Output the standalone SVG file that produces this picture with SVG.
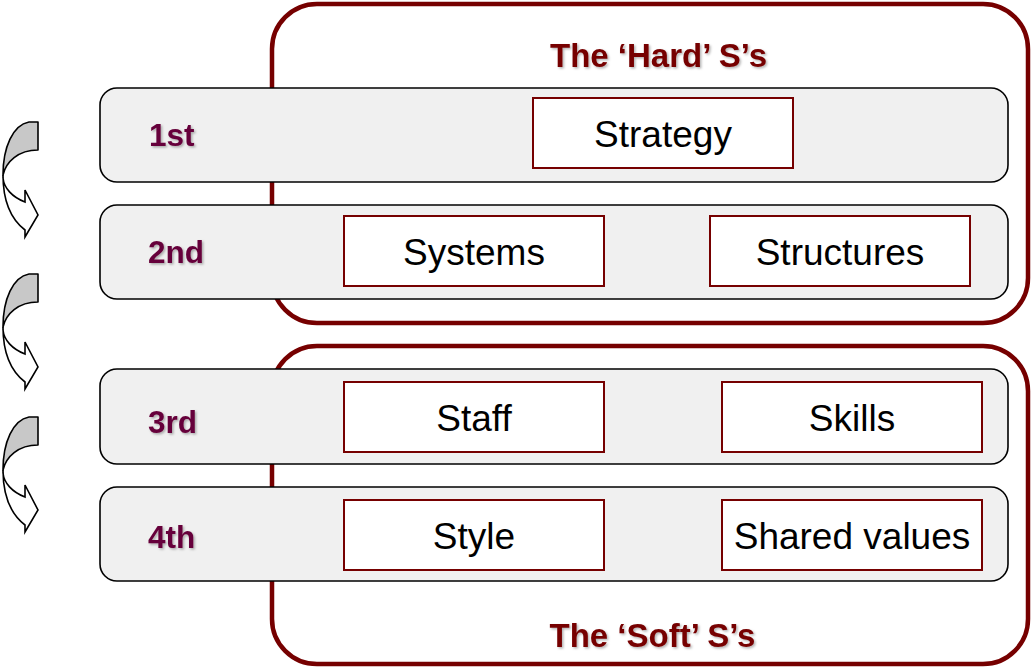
<svg xmlns="http://www.w3.org/2000/svg" width="1033" height="669" viewBox="0 0 1033 669">
<style>
.container{fill:none;stroke:#760000;stroke-width:4.5}
.row{fill:#f0f0f0;stroke:#000;stroke-width:1.6}
.box{fill:#fff;stroke:#760000;stroke-width:2}
.txt{font-family:"Liberation Sans",Arial,sans-serif;font-size:37px;fill:#000;text-anchor:middle}
.lbl{font-family:"Liberation Sans",Arial,sans-serif;font-size:31.5px;font-weight:bold;fill:#66003a}
.ttl{font-family:"Liberation Sans",Arial,sans-serif;font-size:33px;font-weight:bold;fill:#760000;text-anchor:middle}
.ag{fill:#c8c8c8;stroke:#000;stroke-width:1.6;stroke-linejoin:round}
.aw{fill:#fff;stroke:#000;stroke-width:1.6;stroke-linejoin:miter}
</style>
<defs>
<filter id="sh" x="-10%" y="-20%" width="130%" height="150%">
<feDropShadow dx="1.5" dy="1.5" stdDeviation="1" flood-color="#000" flood-opacity="0.3"/>
</filter>
<g id="carrow">
<path class="aw" d="M3,53 C3,80 12,98 25,108 L25,115 L38,93 L25,68 L25,80 C12,75 4,66 3,56 Z"/>
<path class="ag" d="M38,0 L29,0 C13,3 3,25 3,53 C6,40 18,28 38,28 Z"/>
</g>
</defs>
<g id="hard-group">
<rect class="container" x="272" y="4" width="756" height="319" rx="45"/>
<text class="ttl" x="658.5" y="67" filter="url(#sh)">The ‘Hard’ S’s</text>
</g>
<g id="soft-group">
<rect class="container" x="272" y="346" width="756" height="318" rx="45"/>
<text class="ttl" x="652.5" y="647" filter="url(#sh)">The ‘Soft’ S’s</text>
</g>
<g id="connectors">
<use href="#carrow" x="0" y="122"/>
<use href="#carrow" x="0" y="274"/>
<use href="#carrow" x="0" y="417"/>
</g>
<g id="row1">
<rect class="row" x="100" y="88" width="908" height="94" rx="17"/>
<text class="lbl" x="149" y="146" filter="url(#sh)">1st</text>
</g>
<g id="row2">
<rect class="row" x="100" y="205" width="908" height="94" rx="17"/>
<text class="lbl" x="148" y="263" filter="url(#sh)">2nd</text>
</g>
<g id="row3">
<rect class="row" x="100" y="369" width="908" height="95" rx="17"/>
<text class="lbl" x="148" y="433" filter="url(#sh)">3rd</text>
</g>
<g id="row4">
<rect class="row" x="100" y="487" width="908" height="94" rx="17"/>
<text class="lbl" x="148" y="548" filter="url(#sh)">4th</text>
</g>
<g id="strategy">
<rect class="box" x="533" y="98" width="260" height="70"/>
<text class="txt" x="663" y="147">Strategy</text>
</g>
<g id="systems">
<rect class="box" x="344" y="216" width="260" height="70"/>
<text class="txt" x="474" y="265">Systems</text>
</g>
<g id="structures">
<rect class="box" x="710" y="216" width="260" height="70"/>
<text class="txt" x="840" y="265">Structures</text>
</g>
<g id="staff">
<rect class="box" x="344" y="382" width="260" height="70"/>
<text class="txt" x="474" y="431">Staff</text>
</g>
<g id="skills">
<rect class="box" x="722" y="382" width="260" height="70"/>
<text class="txt" x="852" y="431">Skills</text>
</g>
<g id="style">
<rect class="box" x="344" y="500" width="260" height="70"/>
<text class="txt" x="474" y="549">Style</text>
</g>
<g id="shared-values">
<rect class="box" x="722" y="500" width="260" height="70"/>
<text class="txt" x="852" y="549">Shared values</text>
</g>
</svg>
